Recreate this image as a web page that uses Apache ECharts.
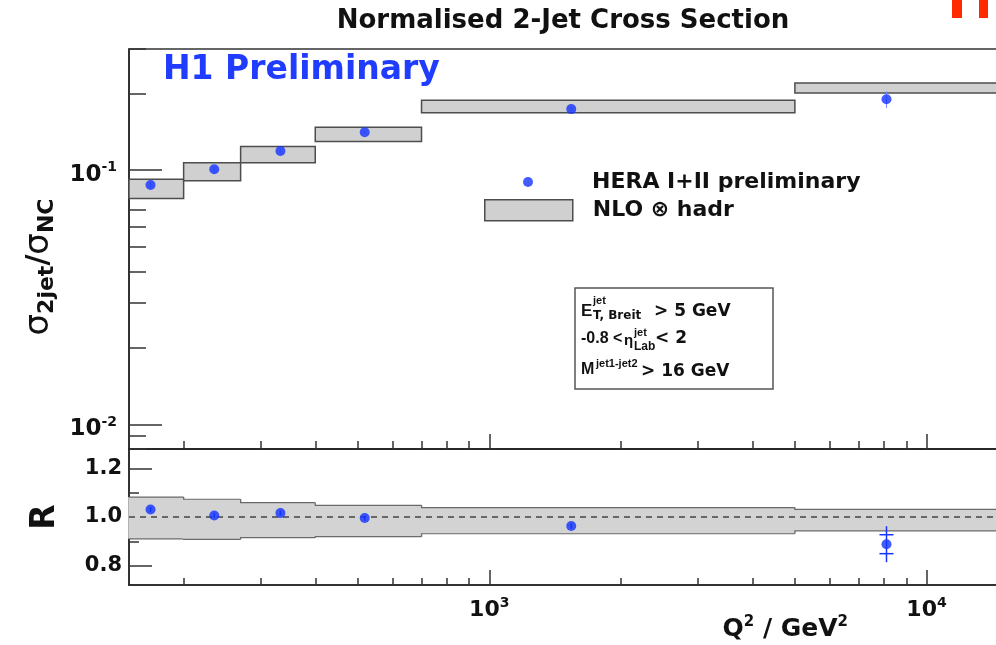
<!DOCTYPE html>
<html><head><meta charset="utf-8">
<script src="https://cdn.jsdelivr.net/npm/echarts@6/dist/echarts.min.js"></script>
<style>html,body{margin:0;padding:0;background:#fff}#c{width:996px;height:645px}</style>
</head><body><div id="c"></div>
<script>
// ---------- data ----------
const binEdges = [150, 200, 270, 400, 700, 5000, 15000];
const q2Centers = [168, 235, 333, 519, 1540, 8100];
const xsecValues = [0.0875, 0.1009, 0.1191, 0.1412, 0.174, 0.1902];
const xsecTotErr = [0.002, 0.002, 0.002, 0.002, 0.003, 0.0145];
const xsecStatErr = [0, 0, 0, 0, 0, 0];
const nloLow = [0.0775, 0.091, 0.1071, 0.1297, 0.1683, 0.2012];
const nloHigh = [0.0922, 0.1071, 0.1239, 0.1477, 0.1885, 0.2204];
const ratioValues = [1.031, 1.006, 1.016, 0.996, 0.963, 0.888];
const ratioTotErr = [0.01, 0.01, 0.01, 0.01, 0.01, 0.074];
const ratioStatErr = [0, 0, 0, 0, 0, 0.039];
const ratioLow = [0.910, 0.908, 0.915, 0.919, 0.931, 0.943];
const ratioHigh = [1.082, 1.073, 1.059, 1.048, 1.039, 1.031];
const xMajorTicks = [1000, 10000];
const yMajorTicks = [0.01, 0.1];
const rMajorTicks = [0.8, 1.0, 1.2];
const rMinorTicks = [0.9, 1.1];

// ---------- helpers ----------
const FF = 'DejaVu Sans';
const LS = 'Liberation Sans';
const BLUE = '#1433ff';
const X_MIN = 150, X_MAX = 15000, Y_MIN = 0.008, Y_MAX = 0.3, R_MIN = 0.72, R_MAX = 1.28;

function logMinors(lo, hi, majors) {
  const out = [];
  for (let d = Math.floor(Math.log10(lo)); d <= Math.ceil(Math.log10(hi)); d++) {
    for (let k = 1; k <= 9; k++) {
      const v = +(k * Math.pow(10, d)).toPrecision(6);
      if (v >= lo * 0.9999 && v <= hi * 1.0001 && !majors.some(m => Math.abs(m - v) / m < 1e-6)) out.push(v);
    }
  }
  return out;
}
const xMinorTicks = logMinors(X_MIN, X_MAX, xMajorTicks);
const yMinorTicks = logMinors(Y_MIN, Y_MAX, yMajorTicks);

function powLabel(v) {
  return '{b|10}{s|' + Math.round(Math.log10(v)) + '}';
}
const tickStyle = { color: '#333', width: 1.5 };

function bandRender(params, api) {
  const p1 = api.coord([api.value(0), api.value(3)]);
  const p2 = api.coord([api.value(1), api.value(2)]);
  return {
    type: 'rect',
    shape: { x: p1[0], y: p1[1], width: p2[0] - p1[0], height: p2[1] - p1[1] },
    style: { fill: '#d0d0d0', stroke: '#4d4d4d', lineWidth: 1.5 }
  };
}
// ratio band: filled bin plus its upper/lower edges and the step joining the previous bin
function ratioBandRender(params, api) {
  const x0 = api.value(0), x1 = api.value(1), lo = api.value(2), hi = api.value(3), plo = api.value(4), phi = api.value(5);
  const a = api.coord([x0, hi]), b = api.coord([x1, lo]);
  const pa = api.coord([x0, phi]), pb = api.coord([x0, plo]);
  const st = { fill: 'none', stroke: '#6a6a6a', lineWidth: 1.2 };
  return {
    type: 'group',
    children: [
      { type: 'rect', shape: { x: a[0] - 0.8, y: a[1], width: b[0] - a[0] + 1.6, height: b[1] - a[1] }, style: { fill: '#d3d3d3' } },
      { type: 'polyline', shape: { points: [[pa[0], pa[1]], [a[0], a[1]], [b[0], a[1]]] }, style: st },
      { type: 'polyline', shape: { points: [[pb[0], pb[1]], [a[0], b[1]], [b[0], b[1]]] }, style: st }
    ]
  };
}
function errRender(width, color) {
  return function (params, api) {
    const x = api.value(0), y = api.value(1), et = api.value(2), es = api.value(3);
    const a = api.coord([x, y + et]), b = api.coord([x, y - et]);
    const ch = [{ type: 'line', shape: { x1: a[0], y1: a[1], x2: b[0], y2: b[1] }, style: { stroke: color, lineWidth: width } }];
    if (es > 0) {
      [y + es, y - es].forEach(function (v) {
        const p = api.coord([x, v]);
        ch.push({ type: 'line', shape: { x1: p[0] - 7, y1: p[1], x2: p[0] + 7, y2: p[1] }, style: { stroke: color, lineWidth: width } });
      });
    }
    return { type: 'group', children: ch };
  };
}

function xAxisDef(grid, ticks, len, labels) {
  return {
    type: 'log', logBase: 10, gridIndex: grid, min: X_MIN, max: X_MAX, position: 'bottom',
    axisLine: { show: labels !== null, onZero: false, lineStyle: { color: '#222', width: 1.5 } },
    axisTick: { show: true, inside: true, length: len, customValues: ticks, lineStyle: tickStyle },
    minorTick: { show: false },
    splitLine: { show: false },
    axisLabel: labels ? labels : { show: false }
  };
}

const chart = echarts.init(document.getElementById('c'), null, { renderer: 'canvas' });

const xLabelCfg = {
  show: true, customValues: xMajorTicks, margin: 8, formatter: powLabel,
  rich: {
    b: { fontFamily: FF, fontWeight: 'bold', fontSize: 22, color: '#111', padding: [6, 0, 0, 0] },
    s: { fontFamily: FF, fontWeight: 'bold', fontSize: 14, color: '#111', padding: [0, 0, 8, 0] }
  }
};

const option = {
  backgroundColor: '#fff',
  animation: false,
  title: [
    { text: 'Normalised 2-Jet Cross Section', left: 563, top: 8, textAlign: 'center', padding: 0,
      textStyle: { fontFamily: FF, fontWeight: 'bold', fontSize: 26, color: '#111' } },
    { text: 'H1 Preliminary', left: 163, top: 54, padding: 0,
      textStyle: { fontFamily: FF, fontWeight: 'bold', fontSize: 33, color: '#1f3cff' } }
  ],
  legend: [
    { data: ['HERA I+II preliminary'], left: 523, top: 171, itemWidth: 10, itemHeight: 10, icon: 'circle',
      selectedMode: false, padding: 0,
      textStyle: { fontFamily: FF, fontWeight: 'bold', fontSize: 22, color: '#111', padding: [4, 0, 0, 54] } },
    { data: ['NLO \u2297 hadr'], left: 484, top: 199, itemWidth: 88, itemHeight: 21, icon: 'rect',
      selectedMode: false, padding: 0,
      itemStyle: { color: '#d0d0d0', borderColor: '#4d4d4d', borderWidth: 1.5 },
      textStyle: { fontFamily: FF, fontWeight: 'bold', fontSize: 22, color: '#111', padding: [3, 0, 0, 15] } }
  ],
  grid: [
    { left: 129, top: 49, width: 874.5, height: 400, show: true, borderColor: '#333', borderWidth: 1.5, backgroundColor: 'transparent', outerBoundsMode: 'none', containLabel: false },
    { left: 129, top: 449, width: 874.5, height: 136, show: true, borderColor: '#333', borderWidth: 1.5, backgroundColor: 'transparent', outerBoundsMode: 'none', containLabel: false }
  ],
  xAxis: [
    xAxisDef(0, xMajorTicks, 15, false),
    xAxisDef(0, xMinorTicks, 8, null),
    Object.assign(xAxisDef(1, xMajorTicks, 15, xLabelCfg), {
      name: '{b|Q}{s|2}{b| / GeV}{s|2}', nameLocation: 'end', nameGap: -281,
      nameTextStyle: {
        align: 'left', verticalAlign: 'top', padding: [30, 0, 0, 0],
        rich: {
          b: { fontFamily: FF, fontWeight: 'bold', fontSize: 25, color: '#111' },
          s: { fontFamily: FF, fontWeight: 'bold', fontSize: 15, color: '#111', padding: [0, 0, 14, 0] }
        }
      }
    }),
    xAxisDef(1, xMinorTicks, 7, null)
  ],
  yAxis: [
    {
      type: 'log', logBase: 10, gridIndex: 0, min: Y_MIN, max: Y_MAX, position: 'left',
      axisLine: { show: true, onZero: false, lineStyle: { color: '#222', width: 1.5 } },
      axisTick: { show: true, inside: true, length: 33, customValues: yMajorTicks, lineStyle: tickStyle },
      splitLine: { show: false },
      axisLabel: {
        show: true, customValues: yMajorTicks, margin: 12, formatter: powLabel,
        rich: {
          b: { fontFamily: FF, fontWeight: 'bold', fontSize: 23, color: '#111', padding: [9, 0, 0, 0] },
          s: { fontFamily: FF, fontWeight: 'bold', fontSize: 14, color: '#111', padding: [0, 0, 5, 0] }
        }
      },
      name: '{g|\u03c3}{sub|2jet}{sl|/}{g|\u03c3}{sub|NC}', nameLocation: 'middle', nameRotate: 90, nameGap: 66,
      nameTextStyle: {
        padding: [0, 36, 0, 0],
        rich: {
          g: { fontFamily: FF, fontSize: 34, color: '#111' },
          sl: { fontFamily: FF, fontWeight: 'bold', fontSize: 30, color: '#111' },
          sub: { fontFamily: FF, fontWeight: 'bold', fontSize: 22, color: '#111', padding: [16, 0, 0, 0] }
        }
      }
    },
    {
      type: 'log', logBase: 10, gridIndex: 0, min: Y_MIN, max: Y_MAX, position: 'left',
      axisLine: { show: false },
      axisTick: { show: true, inside: true, length: 17, customValues: yMinorTicks, lineStyle: tickStyle },
      splitLine: { show: false }, axisLabel: { show: false }
    },
    {
      type: 'value', gridIndex: 1, min: R_MIN, max: R_MAX, position: 'left',
      axisLine: { show: true, onZero: false, lineStyle: { color: '#222', width: 1.5 } },
      axisTick: { show: true, inside: true, length: 23, customValues: rMajorTicks, lineStyle: tickStyle },
      splitLine: { show: false },
      axisLabel: {
        show: true, customValues: rMajorTicks, margin: 7,
        formatter: function (v) { return v.toFixed(1); },
        fontFamily: FF, fontWeight: 'bold', fontSize: 21, color: '#111', padding: [4, 0, 0, 0]
      },
      name: 'R', nameLocation: 'middle', nameRotate: 90, nameGap: 67,
      nameTextStyle: { fontFamily: FF, fontWeight: 'bold', fontSize: 33, color: '#111' }
    },
    {
      type: 'value', gridIndex: 1, min: R_MIN, max: R_MAX, position: 'left',
      axisLine: { show: false },
      axisTick: { show: true, inside: true, length: 10, customValues: rMinorTicks, lineStyle: tickStyle },
      splitLine: { show: false }, axisLabel: { show: false }
    }
  ],
  series: [
    {
      name: 'NLO \u2297 hadr', type: 'custom', xAxisIndex: 0, yAxisIndex: 0, z: 2, silent: true,
      itemStyle: { color: '#d0d0d0', borderColor: '#4d4d4d', borderWidth: 1.5 },
      renderItem: bandRender,
      encode: { x: [0, 1], y: [2, 3] },
      data: nloLow.map(function (lo, i) { return [binEdges[i], binEdges[i + 1], lo, nloHigh[i]]; })
    },
    {
      name: 'HERA errors', type: 'custom', xAxisIndex: 0, yAxisIndex: 0, z: 3, silent: true,
      renderItem: errRender(1, '#7f90ff'), encode: { x: 0, y: 1 },
      data: q2Centers.map(function (x, i) { return [x, xsecValues[i], xsecTotErr[i], xsecStatErr[i]]; })
    },
    {
      name: 'HERA I+II preliminary', type: 'scatter', xAxisIndex: 0, yAxisIndex: 0, z: 4,
      symbol: 'circle', symbolSize: 10, itemStyle: { color: BLUE },
      data: q2Centers.map(function (x, i) { return [x, xsecValues[i]]; })
    },
    {
      name: 'Ratio band', type: 'custom', xAxisIndex: 2, yAxisIndex: 2, z: 2, silent: true,
      renderItem: ratioBandRender,
      encode: { x: [0, 1], y: [2, 3] },
      data: ratioLow.map(function (lo, i) {
        const p = Math.max(i - 1, 0);
        return [binEdges[i], binEdges[i + 1], lo, ratioHigh[i], ratioLow[p], ratioHigh[p]];
      })
    },
    {
      name: 'Unity', type: 'line', xAxisIndex: 2, yAxisIndex: 2, z: 3, silent: true,
      symbol: 'none', lineStyle: { color: '#444', width: 1.5, type: [6, 5] },
      data: [[binEdges[0], 1], [binEdges[binEdges.length - 1], 1]]
    },
    {
      name: 'Ratio errors', type: 'custom', xAxisIndex: 2, yAxisIndex: 2, z: 4, silent: true,
      renderItem: errRender(1.5, BLUE), encode: { x: 0, y: 1 },
      data: q2Centers.map(function (x, i) { return [x, ratioValues[i], ratioTotErr[i], ratioStatErr[i]]; })
    },
    {
      name: 'Ratio', type: 'scatter', xAxisIndex: 2, yAxisIndex: 2, z: 5,
      symbol: 'circle', symbolSize: 10, itemStyle: { color: BLUE },
      data: q2Centers.map(function (x, i) { return [x, ratioValues[i]]; })
    }
  ],
  graphic: [
    // partial H1 logo at the top-right corner
    { type: 'rect', left: 952, top: 0, shape: { width: 10, height: 18 }, style: { fill: '#ff2a00' } },
    { type: 'rect', left: 979, top: 0, shape: { width: 9, height: 18 }, style: { fill: '#ff2a00' } },
    // cuts text box
    { type: 'rect', shape: { x: 575, y: 288, width: 198, height: 101 }, style: { fill: '#fff', stroke: '#555', lineWidth: 1.5 }, z: 10 },
    { type: 'text', z: 11, style: { x: 581, y: 311.5, text: 'E', font: 'bold 17px "' + LS + '"', fill: '#111', verticalAlign: 'middle' } },
    { type: 'text', z: 11, style: { x: 593, y: 301, text: 'jet', font: 'bold 11px "' + LS + '"', fill: '#111', verticalAlign: 'middle' } },
    { type: 'text', z: 11, style: { x: 593, y: 316, text: 'T, Breit', font: 'bold 12px "' + FF + '"', fill: '#111', verticalAlign: 'middle' } },
    { type: 'text', z: 11, style: { x: 654, y: 311.5, text: '> 5 GeV', font: 'bold 17px "' + FF + '"', fill: '#111', verticalAlign: 'middle' } },
    { type: 'text', z: 11, style: { x: 581, y: 339, text: '-0.8 <', font: 'bold 16px "' + LS + '"', fill: '#111', verticalAlign: 'middle' } },
    { type: 'text', z: 11, style: { x: 624, y: 341, text: '\u03b7', font: 'bold 15px "' + LS + '"', fill: '#111', verticalAlign: 'middle' } },
    { type: 'text', z: 11, style: { x: 634, y: 333, text: 'jet', font: 'bold 11px "' + LS + '"', fill: '#111', verticalAlign: 'middle' } },
    { type: 'text', z: 11, style: { x: 634, y: 347, text: 'Lab', font: 'bold 12px "' + LS + '"', fill: '#111', verticalAlign: 'middle' } },
    { type: 'text', z: 11, style: { x: 655, y: 339, text: '< 2', font: 'bold 17px "' + FF + '"', fill: '#111', verticalAlign: 'middle' } },
    { type: 'text', z: 11, style: { x: 581, y: 370, text: 'M', font: 'bold 16px "' + LS + '"', fill: '#111', verticalAlign: 'middle' } },
    { type: 'text', z: 11, style: { x: 596, y: 363.5, text: 'jet1-jet2', font: 'bold 11px "' + LS + '"', fill: '#111', verticalAlign: 'middle' } },
    { type: 'text', z: 11, style: { x: 641, y: 372, text: '> 16 GeV', font: 'bold 17px "' + FF + '"', fill: '#111', verticalAlign: 'middle' } }
  ]
};
chart.setOption(option);
</script>
</body></html>
